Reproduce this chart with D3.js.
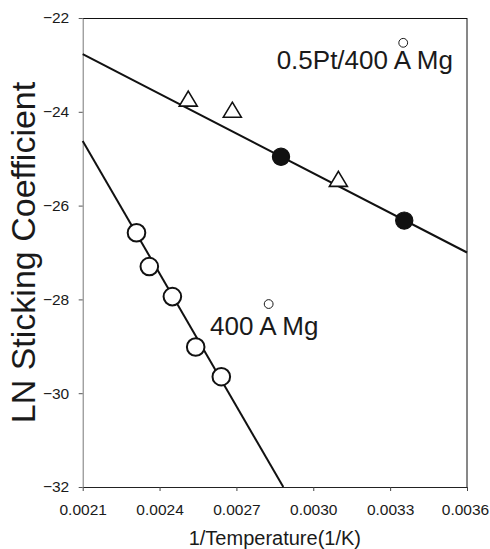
<!DOCTYPE html>
<html>
<head>
<meta charset="utf-8">
<script src="https://cdn.jsdelivr.net/npm/d3@7"></script>
<style>
  html, body { margin: 0; padding: 0; background: #fff; }
  svg { display: block; font-family: "Liberation Sans", Arial, sans-serif; }
</style>
</head>
<body>
<svg id="chart" width="490" height="549"></svg>
<script>
// Inverse temperature (1/K) and ln(sticking coefficient) for each sample
const ptFilledX = [0.002874, 0.003355];
const ptFilledY = [-24.96, -26.32];
const ptOpenX = [0.002512, 0.002684, 0.003098];
const ptOpenY = [-23.72, -23.955, -25.43];
const mgX = [0.00231, 0.00236, 0.00245, 0.002541, 0.002641];
const mgY = [-26.58, -27.30, -27.94, -29.015, -29.648];

// Linear fits (end points)
const ptFitX = [0.0021, 0.0036];
const ptFitY = [-22.77, -27.00];
const mgFitX = [0.0021, 0.002883];
const mgFitY = [-24.62, -32.0];

// Axis ticks
const xTicks = [0.0021, 0.0024, 0.0027, 0.0030, 0.0033, 0.0036];
const yTicks = [-32, -30, -28, -26, -24, -22];

// Series labels, anchored in data units (start of text, baseline)
const labels = [
  { text: "0.5Pt/400 A Mg", x: 0.002857, y: -23.094, ringRise: 26.5 },
  { text: "400 A Mg", x: 0.002597, y: -28.76, ringRise: 31 }
];

const svg = d3.select("#chart");
const plotL = 82.7, plotR = 467, plotT = 18, plotB = 487;

const x = d3.scaleLinear().domain([0.0021, 0.0036]).range([plotL, plotR]);
const y = d3.scaleLinear().domain([-32, -22]).range([plotB, plotT]);

// Frame: top and right borders
svg.append("line").attr("x1", plotL).attr("x2", plotR).attr("y1", plotT + 0.5).attr("y2", plotT + 0.5)
  .attr("stroke", "#111").attr("stroke-width", 1);
svg.append("line").attr("x1", plotR).attr("x2", plotR).attr("y1", plotT).attr("y2", plotB)
  .attr("stroke", "#111").attr("stroke-width", 1);

// Axes
const xAxis = svg.append("g").attr("transform", `translate(0,${plotB})`)
  .call(d3.axisBottom(x).tickValues(xTicks).tickFormat(d3.format(".4f")).tickSize(4).tickPadding(12.5).tickSizeOuter(0));
const yAxis = svg.append("g").attr("transform", `translate(${plotL},0)`)
  .call(d3.axisLeft(y).tickValues(yTicks).tickFormat(d3.format("d")).tickSize(4).tickPadding(9.5).tickSizeOuter(0));

xAxis.select(".domain").attr("stroke", "#222");
xAxis.selectAll(".tick line").attr("stroke", "#444");
yAxis.select(".domain").attr("stroke", "#777");
yAxis.selectAll(".tick line").attr("stroke", "#555");
[xAxis, yAxis].forEach(g => g.selectAll(".tick text")
  .attr("font-size", 15.5).attr("fill", "#1a1a1a")
  .attr("font-family", "'Liberation Sans', Arial, sans-serif"));
// keep the last x label inside the page edge
xAxis.selectAll(".tick text").filter(d => d === 0.0036).attr("dx", -2);

// Axis titles
svg.append("text")
  .attr("x", (plotL + plotR) / 2).attr("y", 545)
  .attr("text-anchor", "middle").attr("font-size", 20).attr("fill", "#1a1a1a")
  .text("1/Temperature(1/K)");
svg.append("text")
  .attr("transform", `translate(35,${(plotT + plotB) / 2}) rotate(-90)`)
  .attr("text-anchor", "middle").attr("font-size", 34).attr("fill", "#1a1a1a")
  .text("LN Sticking Coefficient");

// Fit lines
const line = d3.line().x(d => x(d[0])).y(d => y(d[1]));
svg.append("path").datum(d3.zip(ptFitX, ptFitY)).attr("d", line)
  .attr("fill", "none").attr("stroke", "#111").attr("stroke-width", 2);
svg.append("path").datum(d3.zip(mgFitX, mgFitY)).attr("d", line)
  .attr("fill", "none").attr("stroke", "#111").attr("stroke-width", 2);

// Open triangles
const triW = 18, triH = 15;
svg.append("g").selectAll("path").data(d3.zip(ptOpenX, ptOpenY)).join("path")
  .attr("d", d => {
    const cx = x(d[0]), cy = y(d[1]);
    return `M${cx},${cy - triH / 2}L${cx + triW / 2},${cy + triH / 2}L${cx - triW / 2},${cy + triH / 2}Z`;
  })
  .attr("fill", "#fff").attr("stroke", "#111").attr("stroke-width", 1.6).attr("stroke-linejoin", "miter");

// Filled circles
svg.append("g").selectAll("circle").data(d3.zip(ptFilledX, ptFilledY)).join("circle")
  .attr("cx", d => x(d[0])).attr("cy", d => y(d[1])).attr("r", 8.6)
  .attr("fill", "#111").attr("stroke", "#111").attr("stroke-width", 1.2);

// Open circles
svg.append("g").selectAll("circle").data(d3.zip(mgX, mgY)).join("circle")
  .attr("cx", d => x(d[0])).attr("cy", d => y(d[1])).attr("r", 8.8)
  .attr("fill", "#fff").attr("stroke", "#111").attr("stroke-width", 2);

// Series labels with the angstrom ring drawn above the A
labels.forEach(l => {
  const x0 = x(l.x);
  const t = svg.append("text")
    .attr("x", x0).attr("y", y(l.y))
    .attr("font-size", 26).attr("fill", "#1a1a1a")
    .text(l.text);
  const node = t.node();
  const idx = l.text.indexOf("A");
  const pre = node.getSubStringLength(0, idx);
  const w = node.getSubStringLength(idx, 1);
  svg.append("circle")
    .attr("cx", x0 + pre + w / 2 + 1.5)
    .attr("cy", y(l.y) - l.ringRise)
    .attr("r", 4.4)
    .attr("fill", "none").attr("stroke", "#1a1a1a").attr("stroke-width", 1);
});
</script>
</body>
</html>
